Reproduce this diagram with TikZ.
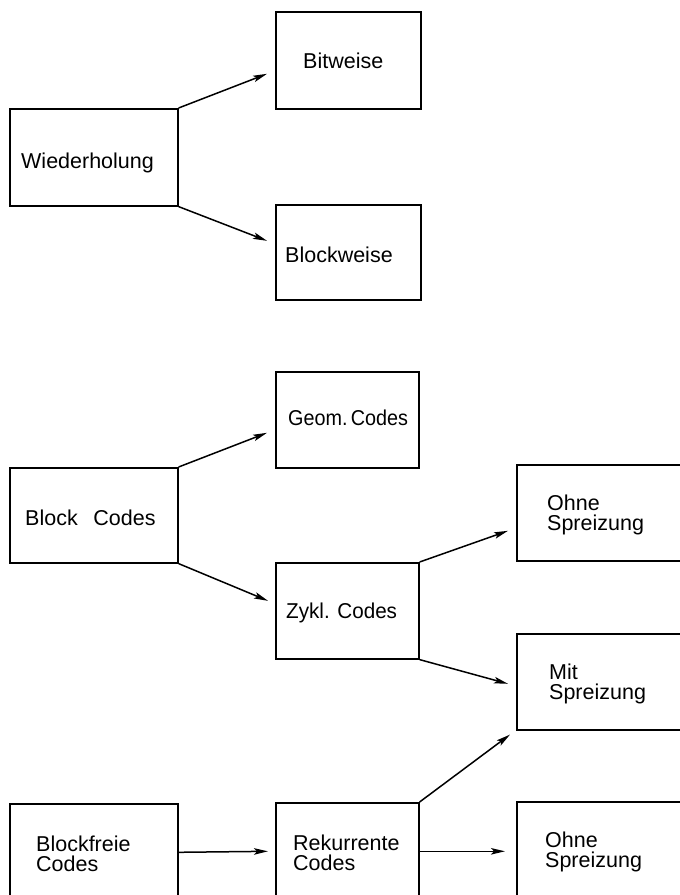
\documentclass[tikz,border=0pt]{standalone}
\usepackage{fontspec}
\setmainfont{Liberation Sans}
\usetikzlibrary{arrows.meta,calc}
\tikzset{
  box/.style={draw, line width=1.6pt, anchor=north west, inner sep=0pt, minimum height=#1},
  box/.default=96pt,
  lbl/.style={inner sep=0pt, font=\fontsize{21.5}{20.5}\selectfont, align=left},
  arr/.style={line width=1.5pt, -{Stealth[length=14pt,width=6.5pt,inset=3pt]}}
}
\begin{document}
\begin{tikzpicture}[x=1pt,y=-1pt]
\useasboundingbox (0,0) rectangle (680,895);
\clip (0,0) rectangle (680,895);
% boxes
\node[box=97pt, minimum width=168pt] (wied) at (9,108) {};
\node[box=97pt, minimum width=145pt] (bit) at (275,11) {};
\node[box=95pt, minimum width=145pt] (bw) at (275,204) {};
\node[box=96pt, minimum width=143pt] (geom) at (275,371) {};
\node[box=95pt, minimum width=168pt] (blk) at (9,467) {};
\node[box=96pt, minimum width=143pt] (zyk) at (275,562) {};
\node[box=96pt, minimum width=180pt] (ohne1) at (516,464) {};
\node[box=96pt, minimum width=180pt] (mit) at (516,633) {};
\node[box=97pt, minimum width=168pt] (bf) at (9,803) {};
\node[box=97pt, minimum width=143pt] (rek) at (275,802) {};
\node[box=97pt, minimum width=180pt] (ohne2) at (516,801) {};
% labels
\node[lbl, anchor=base west] (tbit) at (303,68) {Bitweise};
\node[lbl, anchor=base west] (twied) at (21,168) {Wiederholung};
\node[lbl, anchor=base west] (tbw) at (285,262) {Blockweise};
\node[lbl, anchor=base west, xscale=0.92, transform shape] (tgeom) at (288,425) {Geom.\,Codes};
\node[lbl, anchor=base west] (tblk) at (25,525) {Block\hspace{0.45em} Codes};
\node[lbl, anchor=base west, xscale=0.96, transform shape] (tzyk) at (286,618) {Zykl. Codes};
\node[lbl, anchor=west] (tohne1) at (547,515) {Ohne\\Spreizung};
\node[lbl, anchor=west] (tmit) at (549,684) {Mit\\Spreizung};
\node[lbl, anchor=west] (tbf) at (36,854) {Blockfreie\\Codes};
\node[lbl, anchor=west] (trek) at (293,853) {Rekurrente\\Codes};
\node[lbl, anchor=west] (tohne2) at (545,852) {Ohne\\Spreizung};
% connectors
\draw[arr] (wied.north east) -- ($(bit.west)+(-8,13.5)$);
\draw[arr] (wied.south east) -- ($(bw.west)+(-8,-11.5)$);
\draw[arr] (blk.north east) -- ($(geom.west)+(-8,13)$);
\draw[arr] (blk.south east) -- ($(zyk.west)+(-7,-10)$);
\draw[arr] (zyk.north east) -- ($(ohne1.west)+(-8,18)$);
\draw[arr] (zyk.south east) -- ($(mit.west)+(-8,2)$);
\draw[arr] (bf.east) -- ($(rek.west)+(-7,0)$);
\draw[arr] (rek.north east) -- ($(mit.south west)+(-6,4)$);
\draw[arr] (rek.east) -- ($(ohne2.west)+(-11,1)$);
\end{tikzpicture}
\end{document}
